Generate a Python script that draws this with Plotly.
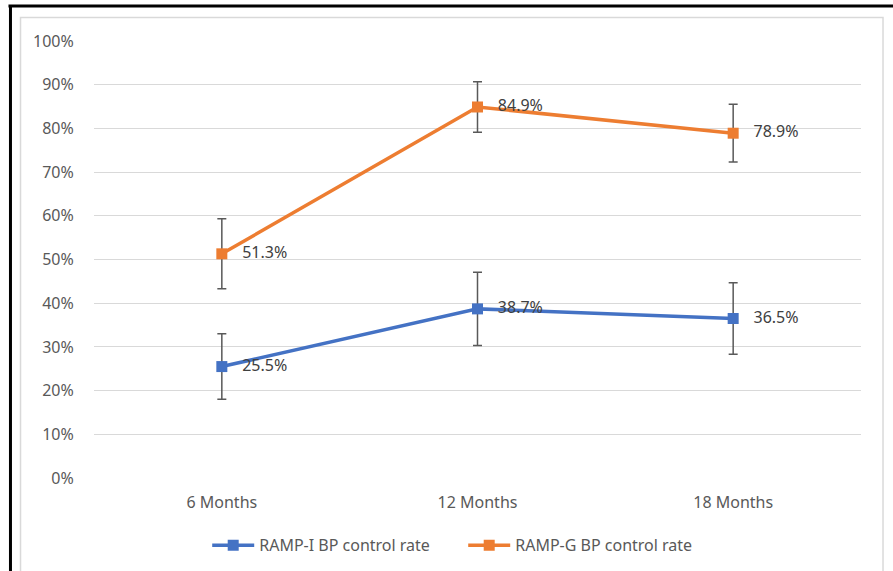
import plotly.graph_objects as go

categories = ["6 Months", "12 Months", "18 Months"]
ramp_i = [25.5, 38.7, 36.5]
ramp_i_err = [7.5, 8.4, 8.2]
ramp_g = [51.3, 84.9, 78.9]
ramp_g_err = [8.0, 5.8, 6.6]
y_ticks = [0, 10, 20, 30, 40, 50, 60, 70, 80, 90, 100]
y_tick_labels = [f"{v}%" for v in y_ticks]

FONT = "Noto Sans"
TXT = "#595959"
FS = 16

fig = go.Figure()

def add_series(name, vals, errs, color):
    fig.add_trace(go.Scatter(
        x=categories, y=vals, name=name,
        mode="lines+markers+text",
        text=[f"   {v:.1f}%" for v in vals],
        textposition="middle right",
        textfont=dict(family=FONT, size=FS, color="#404040"),
        line=dict(color=color, width=3.5),
        marker=dict(symbol="square", size=11, color=color),
        error_y=dict(type="data", array=errs, visible=True,
                     color="#595959", thickness=1.5, width=4.5),
        cliponaxis=False,
    ))

add_series("RAMP-I BP control rate", ramp_i, ramp_i_err, "#4472C4")
add_series("RAMP-G BP control rate", ramp_g, ramp_g_err, "#ED7D31")

fig.update_layout(
    width=893, height=571,
    margin=dict(l=94, r=32, t=41, b=93, autoexpand=False),
    paper_bgcolor="white", plot_bgcolor="white",
    font=dict(family=FONT, size=FS, color=TXT),
    showlegend=True,
    legend=dict(orientation="h", x=0.1476, xanchor="left", y=-0.115, yanchor="top",
                itemwidth=42, entrywidth=199, entrywidthmode="pixels",
                font=dict(family=FONT, size=FS, color=TXT), traceorder="normal"),
    xaxis=dict(range=[-0.5, 2.5], showgrid=False, showline=False, zeroline=False,
               automargin=False,
               ticks="outside", ticklen=10, tickcolor="rgba(0,0,0,0)",
               tickfont=dict(family=FONT, size=FS, color=TXT)),
    yaxis=dict(range=[0, 100], tickvals=y_ticks, ticktext=y_tick_labels,
               showgrid=True, gridcolor="#D9D9D9", gridwidth=1,
               zeroline=False, showline=False, automargin=False,
               ticks="outside", ticklen=16, tickcolor="rgba(0,0,0,0)",
               tickfont=dict(family=FONT, size=FS, color=TXT)),
    shapes=[
        dict(type="rect", xref="paper", yref="paper",
             x0=-0.0958, x1=1.0287, y0=-0.3, y1=1.0538,
             line=dict(color="#D9D9D9", width=1.5), fillcolor="rgba(0,0,0,0)", layer="below"),
        dict(type="line", xref="paper", yref="paper",
             x0=-0.1115, x1=1.05, y0=1.0801, y1=1.0801,
             line=dict(color="black", width=3)),
        dict(type="line", xref="paper", yref="paper",
             x0=-0.1089, x1=-0.1089, y0=-0.3, y1=1.0801,
             line=dict(color="black", width=3)),
    ],
)

fig.write_html("out.html", config={"displayModeBar": False},
               post_script="document.body.style.margin='0';document.body.style.overflow='hidden';")
